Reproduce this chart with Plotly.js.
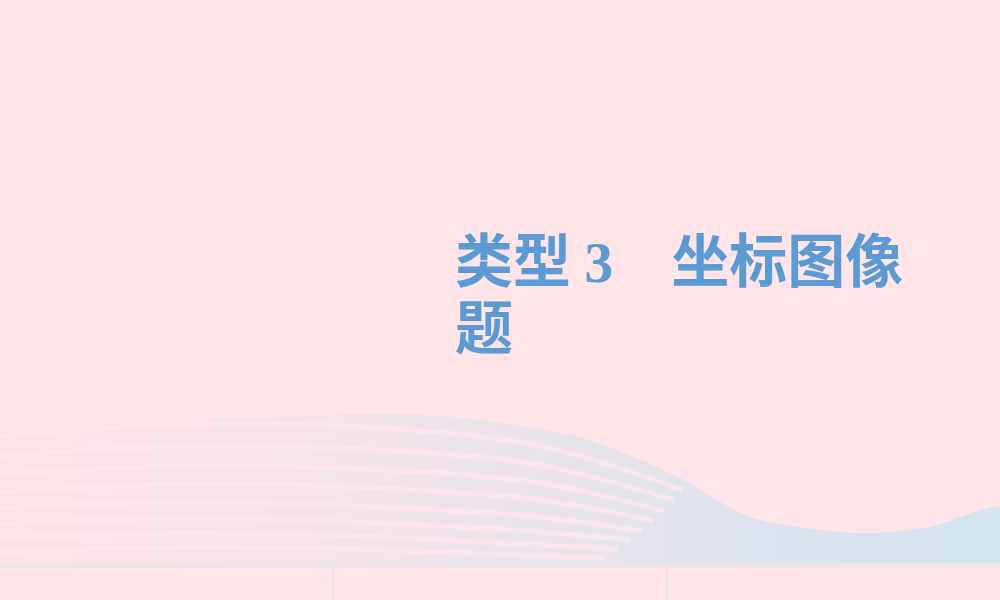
<!DOCTYPE html>
<html>
<head>
<meta charset="utf-8">
<script src="https://cdn.plot.ly/plotly-3.0.1.min.js"></script>
<style>html,body{margin:0;padding:0;background:#FFE4E8;}#chart{width:1000px;height:600px;}</style>
</head>
<body>
<div id="chart"></div>
<script>
// Slide title text
const titleLine1 = ["类型", "3", "坐标图像"];
const titleLine2 = ["题"];

// Decorative wave outline (top edge of the tinted band)
const waveTopX = [0, 100, 200, 300, 400, 480, 580, 680, 750, 860, 930, 1000];
const waveTopY = [432, 425, 420, 416, 414, 420, 437, 478, 517, 533, 527, 508];
const waveBottomY = 563;

// Decorative light stripes inside the wave
const stripeX = [0, 190, 380, 540];
const stripeEndX = [682, 674, 664, 654, 643, 631, 618, 604];
const stripeYs = [
  [436, 424, 428, 446, 490],
  [456, 446, 450, 465, 500],
  [474, 466, 470, 483, 511],
  [492, 484, 488, 500, 521],
  [508, 502, 507, 517, 531],
  [524, 518, 523, 532, 540],
  [538, 533, 537, 545, 549],
  [552, 547, 550, 556, 557]
];

// Bottom footer dividers
const dividerX = [333, 667];

const bandX = waveTopX.concat([1000, 0]);
const bandY = waveTopY.concat([waveBottomY, waveBottomY]);

const traces = [{
  type: 'scatter', mode: 'lines',
  x: bandX, y: bandY,
  line: {width: 0, shape: 'spline', smoothing: 0.8},
  fill: 'toself',
  fillgradient: {
    type: 'horizontal',
    colorscale: [[0, '#FDE3E8'], [0.35, '#F2E3EA'], [0.6, '#E6E3EB'], [0.8, '#D9E3EC'], [1, '#D2E4EC']]
  },
  hoverinfo: 'skip', showlegend: false
}];

stripeYs.forEach(function (ys, i) {
  traces.push({
    type: 'scatter', mode: 'lines',
    x: stripeX.concat([stripeEndX[i]]), y: ys,
    line: {color: 'rgba(255,231,236,0.7)', width: 5, shape: 'spline', smoothing: 1},
    hoverinfo: 'skip', showlegend: false
  });
});

const shapes = [
  {type: 'rect', xref: 'x', yref: 'y', x0: 0, x1: 1000, y0: waveBottomY, y1: 568, fillcolor: '#EBE5E8', line: {width: 0}, layer: 'above'},
  {type: 'rect', xref: 'x', yref: 'y', x0: 0, x1: 1000, y0: 568, y1: 600, fillcolor: '#FFE4E8', line: {width: 0}, layer: 'above'}
];
dividerX.forEach(function (dx) {
  shapes.push({type: 'rect', xref: 'x', yref: 'y', x0: dx - 2, x1: dx + 2, y0: 568, y1: 600, fillcolor: '#ECE4E7', line: {width: 0}, layer: 'above'});
});

const titleFont = {family: '"Noto Sans CJK SC", "Noto Sans", sans-serif', size: 58, color: '#5B9BD5', weight: 'bold'};

const layout = {
  width: 1000, height: 600,
  margin: {l: 0, r: 0, t: 0, b: 0},
  paper_bgcolor: '#FFE4E8', plot_bgcolor: '#FFE4E8',
  xaxis: {range: [0, 1000], visible: false, fixedrange: true},
  yaxis: {range: [600, 0], visible: false, fixedrange: true},
  shapes: shapes,
  annotations: [
    {xref: 'x', yref: 'y', x: 453, y: 257, xanchor: 'left', yanchor: 'middle', showarrow: false,
     text: titleLine1[0] + ' <span style="font-family:\'Liberation Serif\',serif;font-weight:bold">' + titleLine1[1] + '</span>\u3000' + titleLine1[2],
     font: titleFont},
    {xref: 'x', yref: 'y', x: 453, y: 324, xanchor: 'left', yanchor: 'middle', showarrow: false,
     text: titleLine2[0], font: titleFont}
  ]
};

Plotly.newPlot('chart', traces, layout, {staticPlot: true, displayModeBar: false});
</script>
</body>
</html>
